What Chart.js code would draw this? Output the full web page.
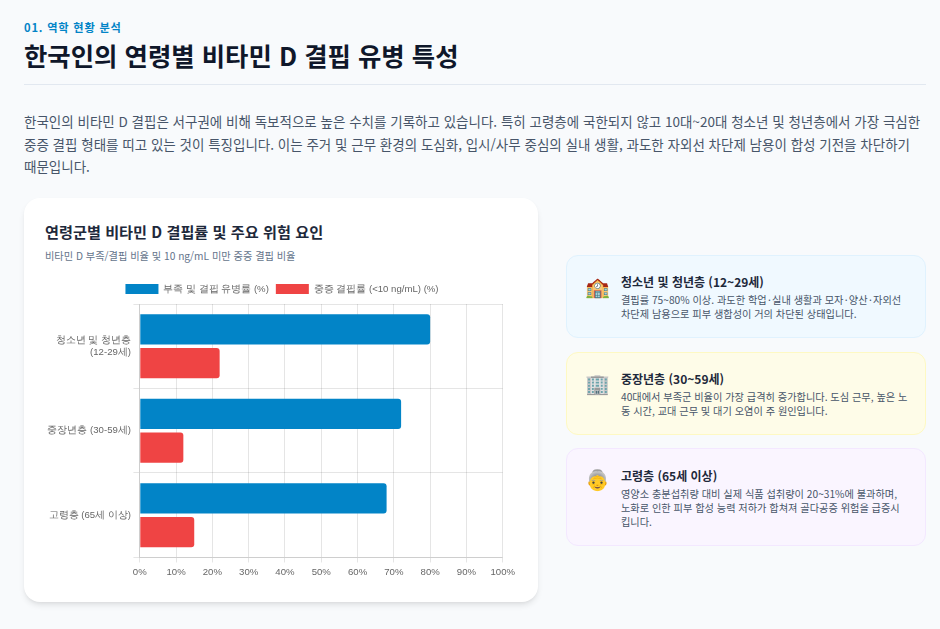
<!DOCTYPE html>
<html lang="ko">
<head>
<meta charset="utf-8">
<title>한국인의 연령별 비타민 D 결핍 유병 특성</title>
<script src="https://cdn.jsdelivr.net/npm/chart.js@4"></script>
<style>
* { box-sizing: border-box; }
html, body { margin: 0; padding: 0; }
body { width: 940px; height: 629px; overflow: hidden; position: relative; background: #f8fafc; font-family: "Noto Sans CJK KR", "Noto Sans", sans-serif; color: #0f172a; }
.kicker { position: absolute; left: 24px; top: 19px; font-size: 11.2px; line-height: 17px; font-weight: 700; color: #0284c7; letter-spacing: 0.8px; }
h1 { position: absolute; left: 24px; top: 37px; margin: 0; font-size: 25.4px; line-height: 36px; font-weight: 700; }
.rule { position: absolute; left: 24px; top: 84px; width: 902px; height: 1px; background: #e2e8f0; }
.lead { position: absolute; left: 24px; top: 110px; width: 910px; margin: 0; font-size: 13.5px; line-height: 22.6px; color: #475569; }
.card { position: absolute; left: 24px; top: 198px; width: 514px; height: 404px; background: #fff; border-radius: 16px; box-shadow: 0 4px 6px -1px rgba(0,0,0,.1), 0 2px 4px -2px rgba(0,0,0,.06); }
.card h2 { position: absolute; left: 21px; top: 21px; margin: 0; font-size: 15.2px; line-height: 24px; font-weight: 700; color: #1e293b; }
.card p { position: absolute; left: 21px; top: 50px; margin: 0; font-size: 10.2px; line-height: 16px; color: #64748b; }
.wrap { position: absolute; left: 21px; top: 79px; width: 474px; height: 305px; }
.note { position: absolute; left: 566px; width: 360px; border-radius: 12px; border: 1px solid; }
.note .ico { position: absolute; left: 18px; top: 18px; font-size: 20px; line-height: 26px; font-family: "Noto Color Emoji", "Noto Sans CJK KR", sans-serif; }
.note h3 { position: absolute; left: 54px; top: 17px; margin: 0; font-size: 12px; line-height: 18px; font-weight: 700; color: #1e293b; }
.note div.txt { position: absolute; left: 54px; top: 37px; width: 300px; font-size: 10.2px; line-height: 14px; color: #475569; }
.dot { padding: 0 1.3px; }
</style>
</head>
<body>
<div class="kicker">01. 역학 현황 분석</div>
<h1>한국인의 연령별 비타민 D 결핍 유병 특성</h1>
<div class="rule"></div>
<p class="lead">한국인의 비타민 D 결핍은 서구권에 비해 독보적으로 높은 수치를 기록하고 있습니다. 특히 고령층에 국한되지 않고 10대~20대 청소년 및 청년층에서 가장 극심한<br>중증 결핍 형태를 띠고 있는 것이 특징입니다. 이는 주거 및 근무 환경의 도심화, 입시/사무 중심의 실내 생활, 과도한 자외선 차단제 남용이 합성 기전을 차단하기<br>때문입니다.</p>

<div class="card">
  <h2>연령군별 비타민 D 결핍률 및 주요 위험 요인</h2>
  <p>비타민 D 부족/결핍 비율 및 10 ng/mL 미만 중증 결핍 비율</p>
  <div class="wrap"><canvas id="myCanvas"></canvas></div>
</div>

<div class="note" style="top:255px;height:83px;background:#f0f9ff;border-color:#e0f2fe">
  <span class="ico">🏫</span>
  <h3>청소년 및 청년층 (12~29세)</h3>
  <div class="txt">결핍률 75~80% 이상. 과도한 학업<span class="dot">·</span>실내 생활과 모자<span class="dot">·</span>양산<span class="dot">·</span>자외선<br>차단제 남용으로 피부 생합성이 거의 차단된 상태입니다.</div>
</div>
<div class="note" style="top:352px;height:83px;background:#fefce8;border-color:#fef9c3">
  <span class="ico">🏢</span>
  <h3>중장년층 (30~59세)</h3>
  <div class="txt">40대에서 부족군 비율이 가장 급격히 증가합니다. 도심 근무, 높은 노<br>동 시간, 교대 근무 및 대기 오염이 주 원인입니다.</div>
</div>
<div class="note" style="top:448px;height:98px;background:#faf5ff;border-color:#f3e8ff">
  <span class="ico">👵</span>
  <h3 style="top:18px">고령층 (65세 이상)</h3>
  <div class="txt" style="top:38px">영양소 충분섭취량 대비 실제 식품 섭취량이 20~31%에 불과하며,<br>노화로 인한 피부 합성 능력 저하가 합쳐져 골다공증 위험을 급증시<br>킵니다.</div>
</div>

<script>
const categories = [["청소년 및 청년층", "(12-29세)"], "중장년층 (30-59세)", "고령층 (65세 이상)"];
const deficiency = [80, 72, 68];
const severe = [22, 12, 15];

Chart.defaults.font.size = 9.6;

new Chart(document.getElementById("myCanvas"), {
    type: "bar",
    data: {
        labels: categories,
        datasets: [
            { label: "부족 및 결핍 유병률 (%)", data: deficiency, backgroundColor: "#0284c7", borderRadius: 3 },
            { label: "중증 결핍률 (<10 ng/mL) (%)", data: severe, backgroundColor: "#ef4444", borderRadius: 3 },
        ],
    },
    options: {
        indexAxis: "y",
        responsive: true,
        maintainAspectRatio: false,
        animation: false,
        plugins: {
            legend: { position: "top", labels: { boxWidth: 33, boxHeight: 10, padding: 7 } },
            tooltip: { enabled: false },
        },
        scales: {
            x: {
                min: 0,
                max: 100,
                grid: { tickLength: 5 },
                ticks: { stepSize: 10, padding: 4, maxRotation: 0, callback: (v) => v + "%" },
            },
            y: {
                grid: { tickLength: 6.4 },
                ticks: { padding: 2.4 },
            },
        },
    },
});
</script>
</body>
</html>
